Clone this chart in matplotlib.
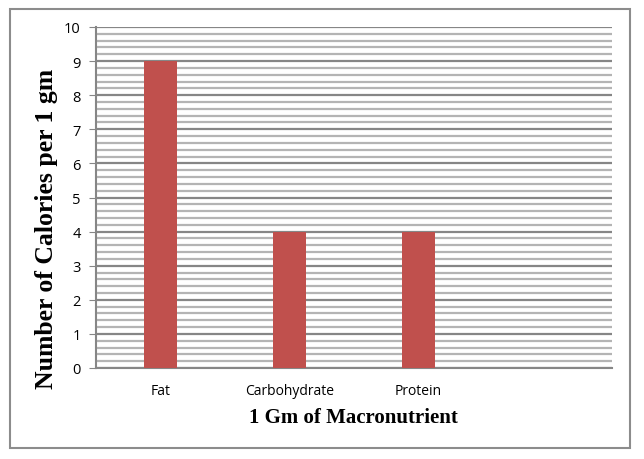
import matplotlib
matplotlib.use("Agg")
import matplotlib.pyplot as plt
from matplotlib.patches import Rectangle
import numpy as np

categories = ["Fat", "Carbohydrate", "Protein", ""]
values = [9, 4, 4]
yticks = [0, 1, 2, 3, 4, 5, 6, 7, 8, 9, 10]

fig = plt.figure(figsize=(6.44, 4.60), dpi=100)
fig.patches.append(Rectangle((10/644, 1-449/460), 620/644, 439/460, transform=fig.transFigure,
                             fill=False, edgecolor="#8c8c8c", linewidth=1.5))
ax = fig.add_axes([96/644, 1-369/460, 516/644, 341/460])

x = np.arange(len(categories))
ax.bar(x[:len(values)], values, width=0.25, color="#C0504D", zorder=3)
ax.set_xlim(-0.5, len(categories) - 0.5)
ax.set_ylim(0, 10)
ax.set_yticks(yticks)
ax.set_yticks(np.arange(0, 10.01, 0.2), minor=True)
ax.set_xticks(x)
ax.set_xticklabels(categories, fontsize=10, family="Open Sans")
for lbl in ax.get_xticklabels():
    lbl.set_fontstretch("expanded")
ax.tick_params(axis="x", length=0, pad=11)
ax.tick_params(axis="y", which="major", length=5, color="#868686", labelsize=10.5, pad=6)
ax.tick_params(axis="y", which="minor", length=0)
for lbl in ax.get_yticklabels():
    lbl.set_family("Open Sans")
ax.grid(axis="y", which="minor", color="#b4b4b4", linewidth=1.6, zorder=0)
ax.grid(axis="y", which="major", color="#868686", linewidth=1.6, zorder=1)
for s in ["top", "right"]:
    ax.spines[s].set_visible(False)
ax.spines["left"].set_color("#868686")
ax.spines["bottom"].set_color("#868686")
ax.spines["left"].set_linewidth(1.5)
ax.spines["bottom"].set_linewidth(1.5)

fig.text(47/644, 1-229/460, "Number of Calories per 1 gm", rotation=90, ha="center", va="center",
         fontsize=18.5, fontweight="bold", family="Liberation Serif")
fig.text(353/644, 1-418/460, "1 Gm of Macronutrient", ha="center", va="center",
         fontsize=15, fontweight="bold", family="Liberation Serif")
fig.savefig("out.png", dpi=100)
